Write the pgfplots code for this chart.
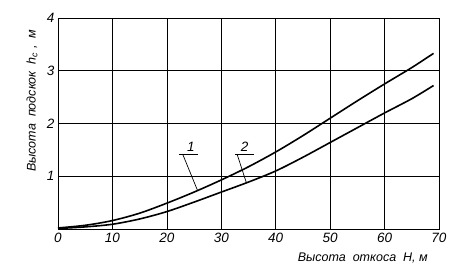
\documentclass[border=0pt]{standalone}
\usepackage{fontspec}
\setmainfont{Liberation Sans}
\usepackage{pgfplots}
\pgfplotsset{compat=1.18}
\begin{document}
\begin{tikzpicture}
\begin{axis}[
  scale only axis,
  width=381pt, height=211pt,
  xmin=0, xmax=70, ymin=0, ymax=4,
  xtick={0,10,...,70}, ytick={1,2,3,4},
  grid=major,
  major grid style={black, line width=0.7pt},
  axis line style={black, line width=0.8pt},
  tick style={draw=none},
  /pgf/number format/assume math mode=true,
  ticklabel style={font=\fontsize{13.5}{15}\selectfont\itshape},
  xticklabel style={yshift=-1pt},
  clip=false,
]
\addplot[black, line width=1.6pt, smooth] coordinates {
(0,0.02) (5,0.07) (10,0.16) (15,0.30) (20,0.49) (25,0.70) (30,0.93) (35,1.18) (40,1.46) (45,1.77) (50,2.10) (55,2.43) (60,2.75) (65,3.06) (69,3.33)};
\addplot[black, line width=1.6pt, smooth] coordinates {
(0,0.01) (5,0.04) (10,0.09) (15,0.19) (20,0.33) (25,0.51) (30,0.70) (35,0.89) (40,1.10) (45,1.36) (50,1.64) (55,1.92) (60,2.20) (65,2.47) (69,2.72)};
\draw[black, line width=0.7pt] (axis cs:22.3,1.42) -- (axis cs:25.8,1.42);
\draw[black, line width=0.7pt] (axis cs:22.9,1.42) -- (axis cs:25.6,0.74);
\draw[black, line width=0.7pt] (axis cs:32.6,1.42) -- (axis cs:36.1,1.42);
\draw[black, line width=0.7pt] (axis cs:32.9,1.42) -- (axis cs:34.6,0.88);
\node[font=\fontsize{13.5}{15}\selectfont\itshape] at (axis cs:24.4,1.56) {1};
\node[font=\fontsize{13.5}{15}\selectfont\itshape] at (axis cs:34.3,1.56) {2};
\node[font=\fontsize{12.5}{14}\selectfont\itshape, rotate=90] at (axis description cs:-0.068,0.607) {Высота\ \ подскок\ \ h\textsubscript{c}\ ,\ \ м};
\node[font=\fontsize{12.5}{14}\selectfont\itshape] at (axis description cs:0.80,-0.137) {Высота\ \ откоса\ \ H,\ м};
\end{axis}
\path ([shift={(-58pt,-47pt)}]current axis.south west) rectangle ([shift={(16pt,18pt)}]current axis.north east);
\end{tikzpicture}
\end{document}
